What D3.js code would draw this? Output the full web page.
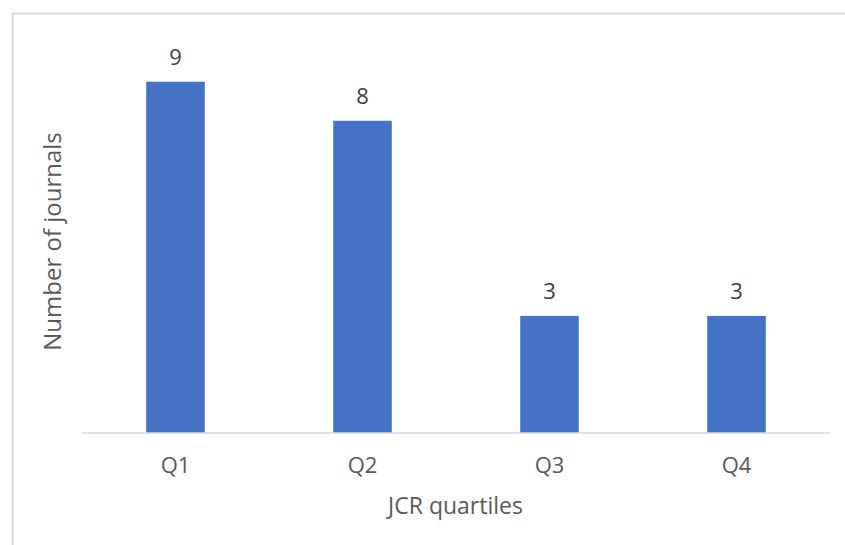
<!DOCTYPE html>
<html>
<head>
<meta charset="utf-8">
<script src="https://cdn.jsdelivr.net/npm/d3@7"></script>
<style>
html,body{margin:0;padding:0;background:#fff;}
svg{display:block;}
text{font-family:"Open Sans",sans-serif;}
</style>
</head>
<body>
<svg id="chart" width="845" height="545"></svg>
<script>
const categories = ["Q1", "Q2", "Q3", "Q4"];
const values = [9, 8, 3, 3];
const yDomain = [0, 10];
const xTitle = "JCR quartiles";
const yTitle = "Number of journals";

const svg = d3.select("#chart");
const plot = {left: 82, right: 830, top: 42.7, bottom: 433};

// chart border
svg.append("rect")
  .attr("x", 12.5).attr("y", 13.5)
  .attr("width", 845).attr("height", 545)
  .attr("fill", "#fff").attr("stroke", "#d9d9d9").attr("stroke-width", 2);

const x = d3.scaleBand().domain(categories)
  .range([plot.left, plot.right]).paddingInner(0.687).paddingOuter(0.3435);
const y = d3.scaleLinear().domain(yDomain).range([plot.bottom, plot.top]);

svg.selectAll("rect.bar").data(values).join("rect")
  .attr("class", "bar")
  .attr("x", (d, i) => x(categories[i]))
  .attr("y", d => y(d))
  .attr("width", x.bandwidth())
  .attr("height", d => y(0) - y(d))
  .attr("fill", "#4472C4");

// x axis
const xAxis = svg.append("g").attr("transform", `translate(0,${plot.bottom})`)
  .call(d3.axisBottom(x).tickSize(0).tickPadding(0));
xAxis.select(".domain").attr("stroke", "#d9d9d9").attr("stroke-width", 1.5)
  .attr("d", `M${plot.left},0H${plot.right}`);
xAxis.selectAll(".tick text")
  .attr("dy", null).attr("y", 39.5)
  .attr("font-family", "Open Sans, sans-serif")
  .attr("font-size", 22).attr("fill", "#595959");

// data labels
svg.selectAll("text.lbl").data(values).join("text")
  .attr("class", "lbl")
  .attr("x", (d, i) => x(categories[i]) + x.bandwidth() / 2)
  .attr("y", d => y(d) - 17)
  .attr("text-anchor", "middle")
  .attr("font-size", 22).attr("fill", "#404040")
  .text(d => d);

// axis titles
svg.append("text")
  .attr("x", (plot.left + plot.right) / 2 - 0.5)
  .attr("y", 513.5)
  .attr("text-anchor", "middle")
  .attr("font-size", 23).attr("fill", "#595959")
  .text(xTitle);

svg.append("text")
  .attr("transform", `translate(60.5,241.5) rotate(-90)`)
  .attr("text-anchor", "middle")
  .attr("font-size", 24).attr("fill", "#595959")
  .text(yTitle);
</script>
</body>
</html>
